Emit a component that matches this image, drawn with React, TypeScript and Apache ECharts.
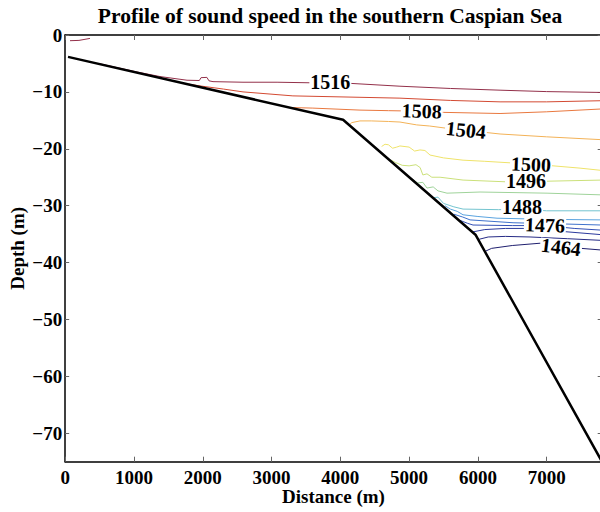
import React, { useEffect, useRef } from "react";
import * as echarts from "echarts";

const FONT = "'Liberation Serif', 'Times New Roman', serif";

const levels = [1464, 1468, 1472, 1476, 1480, 1484, 1488, 1492, 1496, 1500, 1504, 1508, 1512, 1516];
const levelColors = [
  "#1f1f6e", "#262b86", "#2c3a9e", "#3350b5", "#3f72cc", "#5aa3df", "#74c4cf",
  "#9fd39a", "#cbe07a", "#efe36a", "#f3b257", "#e9783f", "#d34a32", "#93304a",
];

const c1464 = [[6110, -38.0], [6200, -37.5], [6500, -37.0], [6904, -36.6], [7208, -37.2], [7500, -37.5], [7800, -37.8]];
const c1468 = [[6020, -35.9], [6150, -35.5], [6400, -35.4], [6758, -35.5], [7300, -35.8], [7800, -36.1]];
const c1472 = [[5930, -34.6], [6100, -34.2], [6400, -34.0], [6657, -34.0], [7200, -34.5], [7800, -35.1]];
const c1476 = [[5745, -32.6], [5850, -33.1], [5929, -33.4], [6500, -33.5], [6976, -33.5], [7400, -34.0], [7800, -34.3]];
const c1480 = [[5650, -31.5], [5780, -32.0], [5886, -32.5], [6511, -33.0], [7200, -33.2], [7800, -33.4]];
const c1484 = [[5520, -30.0], [5600, -30.6], [5700, -31.0], [5784, -31.6], [6000, -31.9], [6278, -32.2], [7000, -32.4], [7800, -32.5]];
const c1488 = [[5290, -27.9], [5350, -28.6], [5420, -28.5], [5500, -29.6], [5650, -30.2], [5784, -30.6], [6300, -30.7], [6643, -30.6], [7000, -30.9], [7800, -30.9]];
const c1492 = [[5056, -25.4], [5120, -26.0], [5200, -25.9], [5260, -26.9], [5350, -26.7], [5420, -27.4], [5551, -27.8], [6031, -27.6], [7005, -27.8], [7800, -28.1]];
const c1496 = [[4740, -22.0], [4800, -22.4], [4900, -22.9], [5000, -23.0], [5100, -22.8], [5160, -23.3], [5200, -24.6], [5260, -24.4], [5330, -25.0], [5450, -25.0], [5784, -25.5], [6400, -25.8], [7000, -25.7], [7800, -25.5]];
const c1500 = [[4600, -19.6], [4650, -19.2], [4700, -19.3], [4760, -19.9], [4820, -19.7], [4867, -19.5], [5000, -19.7], [5080, -20.4], [5158, -20.2], [5230, -20.3], [5304, -21.1], [5500, -21.6], [5784, -22.0], [6100, -22.2], [6511, -22.5], [7000, -22.9], [7485, -23.4], [7800, -23.8]];
const c1504 = [[4130, -15.8], [4166, -15.4], [4286, -15.1], [4450, -15.1], [4700, -15.2], [4867, -15.3], [5110, -15.8], [5300, -16.0], [5550, -16.4], [6322, -17.4], [7000, -17.9], [7800, -18.4]];
const c1508 = [[3280, -12.75], [3600, -12.85], [4286, -13.2], [4700, -13.3], [5184, -13.4], [5500, -13.6], [6322, -13.8], [7000, -13.5], [7800, -13.0]];
const c1512 = [[1800, -8.65], [1960, -8.95], [2300, -9.5], [2585, -10.0], [3310, -10.7], [4286, -10.95], [4867, -11.1], [5600, -11.5], [6322, -11.75], [7000, -11.75], [7800, -11.55]];
const c1516a = [[70, -1.0], [200, -0.95], [360, -0.6]];
const c1516b = [[480, -5.0], [1044, -6.5], [1378, -7.3], [1771, -7.95], [1950, -8.0], [1975, -7.5], [2060, -7.45], [2090, -8.05], [2149, -8.2], [2585, -8.3], [3080, -8.3], [3560, -8.4], [4141, -8.5], [4867, -9.0], [5600, -9.4], [6322, -9.7], [7000, -9.95], [7800, -10.1]];

const contourSegments = [
  { level: 1464, path: c1464 }, { level: 1468, path: c1468 }, { level: 1472, path: c1472 },
  { level: 1476, path: c1476 }, { level: 1480, path: c1480 }, { level: 1484, path: c1484 },
  { level: 1488, path: c1488 }, { level: 1492, path: c1492 }, { level: 1496, path: c1496 },
  { level: 1500, path: c1500 }, { level: 1504, path: c1504 }, { level: 1508, path: c1508 },
  { level: 1512, path: c1512 }, { level: 1516, path: c1516a }, { level: 1516, path: c1516b },
];

const labelValues = [1516, 1508, 1504, 1500, 1496, 1488, 1476, 1464];
const labelX = [3855, 5184, 5827, 6773, 6700, 6643, 6976, 7208];
const labelY = [-8.3, -13.35, -16.7, -22.7, -25.7, -30.2, -33.4, -37.25];
const labelRot = [0, -2, -6, -2, 0, 0, -2, -7];

const bathymetry = [[41, -3.85], [4040, -14.9], [5965, -35.1], [7800, -74.9]];

const yTicks = [0, -10, -20, -30, -40, -50, -60, -70];
const xMin = 0;
const xMax = 7800;
const yMin = -75;
const yMax = 0;

const titleText = "Profile of sound speed in the southern Caspian Sea";

export default function App() {
  const ref = useRef<HTMLDivElement>(null);

  useEffect(() => {
    if (!ref.current) return;
    const chart = echarts.init(ref.current, undefined, { renderer: "svg" });
    const textBase = { color: "#000", fontFamily: FONT, fontWeight: "bold" as const };
    const tickStyle = { color: "#666", width: 1 };
    const axisLineStyle = { color: "#000", width: 1.5 };

    const contourSeries = contourSegments.map((s) => ({
      type: "line",
      data: s.path,
      showSymbol: false,
      symbol: "none",
      silent: true,
      z: 2,
      lineStyle: { width: 1, color: levelColors[levels.indexOf(s.level)] },
    }));

    const option: any = {
      animation: false,
      backgroundColor: "#fff",
      graphic: [
        {
          type: "text",
          x: 330,
          y: 16,
          style: {
            text: titleText,
            font: `bold 21.5px ${FONT}`,
            fill: "#000",
            textAlign: "center",
            textVerticalAlign: "middle",
            align: "center",
            verticalAlign: "middle",
          },
        },
      ],
      grid: { left: 65.2, top: 35, width: 536.5, height: 426.7, outerBoundsMode: "none", containLabel: false },
      xAxis: [
        {
          type: "value",
          min: xMin,
          max: xMax,
          interval: 1000,
          position: "bottom",
          axisLine: { show: true, onZero: false, lineStyle: axisLineStyle },
          axisTick: { show: true, inside: true, length: 5, lineStyle: tickStyle },
          axisLabel: {
            ...textBase,
            fontSize: 19,
            margin: 6,
            formatter: (v: number) => (v % 1000 === 0 ? String(v) : ""),
          },
          splitLine: { show: false },
          name: "Distance (m)",
          nameLocation: "middle",
          nameGap: 25,
          nameMoveOverlap: false,
          nameTextStyle: { ...textBase, fontSize: 19 },
        },
        {
          type: "value",
          min: xMin,
          max: xMax,
          interval: 1000,
          position: "top",
          axisLine: { show: true, onZero: false, lineStyle: axisLineStyle },
          axisTick: { show: true, inside: true, length: 5, lineStyle: tickStyle },
          axisLabel: { show: false },
          splitLine: { show: false },
        },
      ],
      yAxis: [
        {
          type: "value",
          min: yMin,
          max: yMax,
          position: "left",
          axisLine: { show: true, onZero: false, lineStyle: axisLineStyle },
          axisTick: { show: true, inside: true, length: 4, lineStyle: tickStyle, customValues: yTicks },
          axisLabel: {
            ...textBase,
            fontSize: 19,
            margin: 3,
            customValues: yTicks,
            formatter: (v: number) => (v === 0 ? "0" : "\u2212" + Math.abs(v)),
          },
          splitLine: { show: false },
          name: "Depth (m)",
          nameLocation: "middle",
          nameGap: 38,
          nameMoveOverlap: false,
          nameRotate: 90,
          nameTextStyle: { ...textBase, fontSize: 19 },
        },
        {
          type: "value",
          min: yMin,
          max: yMax,
          position: "right",
          axisLine: { show: true, onZero: false, lineStyle: axisLineStyle },
          axisTick: { show: true, inside: true, length: 4, lineStyle: tickStyle, customValues: yTicks },
          axisLabel: { show: false },
          splitLine: { show: false },
        },
      ],
      series: [
        ...contourSeries,
        {
          type: "line",
          data: bathymetry,
          showSymbol: false,
          symbol: "none",
          silent: true,
          z: 5,
          lineStyle: { width: 2.5, color: "#000" },
        },
        {
          type: "scatter",
          silent: true,
          z: 10,
          symbolSize: 1,
          itemStyle: { color: "rgba(255,255,255,0)", opacity: 1 },
          data: labelValues.map((v, i) => ({
            value: [labelX[i], labelY[i]],
            name: String(v),
            label: { rotate: labelRot[i] },
          })),
          label: {
            show: true,
            position: [0.5, 0.5],
            align: "center",
            verticalAlign: "middle",
            formatter: (p: any) => p.name,
            color: "#000",
            opacity: 1,
            fontFamily: FONT,
            fontWeight: "bold",
            fontSize: 20,
            lineHeight: 14,
            backgroundColor: "#fff",
            padding: [0, 1],
            textBorderWidth: 0,
          },
        },
      ],
    };

    chart.setOption(option);
    return () => chart.dispose();
  }, []);

  return (
    <div style={{ position: "fixed", left: 0, top: 0, width: 600, height: 512, overflow: "hidden", background: "#fff" }}>
      <div ref={ref} style={{ width: 600, height: 512 }} />
    </div>
  );
}
